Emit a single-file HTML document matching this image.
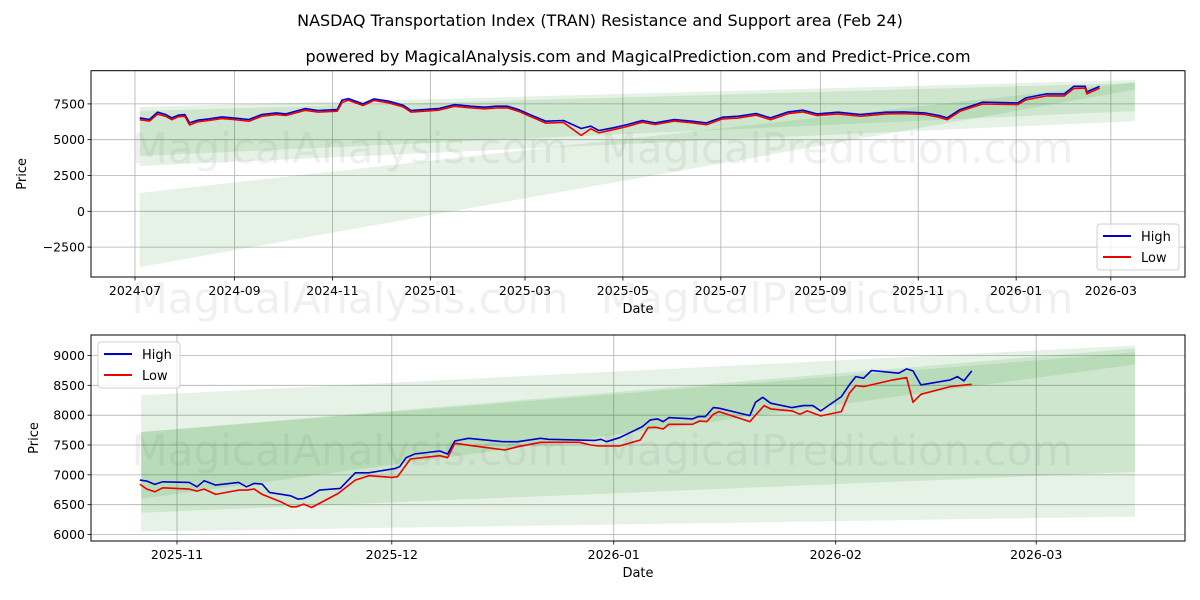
<!DOCTYPE html>
<html><head><meta charset="utf-8">
<style>
html,body{margin:0;padding:0;background:#fff;}
svg{display:block;font-family:"DejaVu Sans","Liberation Sans",sans-serif;}
</style></head>
<body>
<svg id="chart" width="1200" height="600" viewBox="0 0 1200 600" xmlns="http://www.w3.org/2000/svg">
<rect x="0" y="0" width="1200" height="600" fill="#fff"/>
<text x="600" y="26" text-anchor="middle" font-size="16" fill="#000">NASDAQ Transportation Index (TRAN) Resistance and Support area (Feb 24)</text>
<text x="638" y="62" text-anchor="middle" font-size="16" fill="#000">powered by MagicalAnalysis.com and MagicalPrediction.com and Predict-Price.com</text>
<g id="top"></g>
<g id="bot"></g>
</svg>
<script>
// ---- Top panel data (days since 2024-07-01) ----
const topHighDays = [3,9,14,19,23,27,31,34,39,46,54,61,71,79,88,94,106,114,126,129,133,142,149,158,167,172,180,189,199,209,218,225,232,239,247,256,267,278,284,289,298,307,316,324,336,347,356,366,376,387,396,407,416,425,438,452,468,479,492,501,506,514,528,550,555,568,579,585,592,593,601];
const topHigh = [6520,6410,6920,6760,6520,6710,6760,6170,6360,6450,6590,6520,6410,6760,6870,6800,7170,7040,7100,7760,7870,7500,7850,7690,7410,7040,7100,7170,7450,7340,7270,7340,7340,7100,6710,6290,6340,5780,5940,5640,5830,6060,6340,6170,6410,6290,6170,6570,6640,6830,6520,6940,7060,6800,6920,6760,6920,6940,6870,6690,6520,7100,7620,7570,7920,8200,8200,8730,8730,8340,8730];
const topLow = [6400,6300,6780,6640,6400,6600,6640,6030,6250,6340,6470,6410,6290,6640,6750,6690,7050,6930,6990,7600,7750,7390,7740,7580,7300,6930,6990,7060,7330,7230,7160,7220,7230,6980,6590,6160,6200,5300,5760,5480,5700,5930,6220,6060,6300,6180,6050,6450,6520,6710,6400,6820,6940,6680,6800,6640,6800,6820,6760,6570,6400,6980,7490,7450,7780,8060,8060,8580,8600,8200,8600];
const topTicksLabels = ["2024-07","2024-09","2024-11","2025-01","2025-03","2025-05","2025-07","2025-09","2025-11","2026-01","2026-03"];
const topTicksDays = [0,62,123,184,243,304,365,427,488,549,608];
const topYTicks = [-2500,0,2500,5000,7500];
const topBandDays = [3,623];
const topBand1Top = [7283,9169], topBand1Bot = [3163,6300];
const topBand2Top = [7004,8959], topBand2Bot = [3862,7004];
const topBand3Top = [1278,9000], topBand3Bot = [-3890,8500];

// ---- Bottom panel data (days since 2025-11-01) ----
const botHighDays = [-5.2,-4.2,-3.1,-2,1.7,2.8,3.8,5.4,8.6,9.7,10.8,11.9,12.9,15.9,16.9,17.7,18.8,19.9,22.8,24.9,26.8,30.5,31.1,32,33.2,36.7,37.8,38.8,40.7,45.5,47.6,50.8,51.9,58.4,59.2,60,61.8,65,66.1,67.1,67.9,68.7,72,72.8,73.8,74.9,75.7,80,80.8,81.8,82.9,85.9,87.5,88.8,89.9,92.8,93.9,94.8,95.9,97,100.8,101.9,102.8,103.9,108,109,109.9,111];
const botHigh = [6912,6895,6840,6884,6873,6800,6901,6828,6873,6800,6856,6845,6705,6649,6593,6604,6660,6744,6772,7035,7035,7108,7136,7287,7349,7399,7349,7567,7612,7556,7556,7612,7595,7578,7595,7556,7623,7808,7920,7937,7892,7959,7937,7976,7976,8127,8116,7992,8216,8300,8200,8127,8160,8160,8071,8311,8507,8647,8619,8748,8703,8776,8742,8507,8591,8647,8574,8742];
const botLowDays = [-5.2,-4.2,-3.1,-2,1.7,2.8,3.8,5.4,8.6,9.7,10.8,11.9,14.5,15.9,16.7,17.7,18.8,22.5,24.9,26.8,30,30.8,32.6,36.7,37.8,38.8,43.3,45.8,47.6,50.8,56.2,57.8,58.9,61.8,64.7,65.8,66.9,67.9,68.7,72,73,74,74.9,75.7,80,82,82.9,85.9,87,88,89.9,92.8,93.9,94.8,95.9,100,101.9,102.8,103.9,108,111];
const botLow = [6845,6761,6716,6783,6761,6727,6761,6672,6744,6744,6761,6672,6548,6465,6465,6509,6453,6688,6912,6985,6957,6968,7265,7321,7287,7528,7455,7416,7472,7545,7545,7500,7483,7483,7584,7791,7797,7769,7847,7847,7903,7892,8015,8060,7892,8160,8105,8071,8015,8071,7987,8060,8367,8496,8479,8591,8630,8216,8350,8479,8518];
const botTicksLabels = ["2025-11","2025-12","2026-01","2026-02","2026-03"];
const botTicksDays = [0,30,61,92,120];
const botYTicks = [6000,6500,7000,7500,8000,8500,9000];
const botBandDays = [-5,133.8];
const botBand1Top = [8333,9167], botBand1Bot = [6050,6300];
const botBand2Top = [7717,9050], botBand2Bot = [6367,7050];
const botBand3Top = [7717,9120], botBand3Bot = [6600,8850];

const NS = "http://www.w3.org/2000/svg";
function mk(tag, attrs, parent){const e=document.createElementNS(NS,tag);for(const k in attrs)e.setAttribute(k,attrs[k]);parent.appendChild(e);return e;}

function panel(g, cfg){
  const L=91,R=1185,T=cfg.T,B=cfg.B;
  const xs = d => cfg.x0 + d*cfg.xk;
  const ys = v => cfg.y0 - (v - cfg.v0)*cfg.yk;
  cfg.ticksDays.forEach((d,i)=>{
    const x=xs(d);
    const gl=mk('line',{x1:x,x2:x,y1:T,y2:B,stroke:'#b0b0b0','stroke-width':0.8},g);
    
    
    mk('line',{x1:x,x2:x,y1:B,y2:B+3.5,stroke:'#000','stroke-width':0.8},g);
    const t=mk('text',{x:x,y:B+18,'text-anchor':'middle','font-size':12.5,fill:'#000'},g);
    t.textContent=cfg.ticksLabels[i];
    
    
  });
  cfg.yTicks.forEach(v=>{
    const y=ys(v);
    const gl=mk('line',{x1:L,x2:R,y1:y,y2:y,stroke:'#b0b0b0','stroke-width':0.8},g);
    
    
    mk('line',{x1:L-3.5,x2:L,y1:y,y2:y,stroke:'#000','stroke-width':0.8},g);
    const t=mk('text',{x:L-6,y:y+4.5,'text-anchor':'end','font-size':12.5,fill:'#000'},g);
    t.textContent=(v<0?'\u2212'+Math.abs(v):String(v));
    
    
  });
  cfg.bands.forEach((b,i)=>{
    const d0=cfg.bandDays[0],d1=cfg.bandDays[1];
    const p=mk('polygon',{points:`${xs(d0)},${ys(b[0][0])} ${xs(d1)},${ys(b[0][1])} ${xs(d1)},${ys(b[1][1])} ${xs(d0)},${ys(b[1][0])}`,fill:'green','fill-opacity':0.1},g);
    
    
  });
  cfg.wm.forEach(w=>{
    const t=mk('text',{x:w[0],y:w[1],'text-anchor':'middle','font-size':42,fill:'#808080','fill-opacity':0.12},g);
    t.textContent=w[2];
    
    
  });
  const hp=cfg.highDays.map((d,i)=>`${xs(d).toFixed(1)},${ys(cfg.high[i]).toFixed(1)}`).join(' ');
  const lp=cfg.lowDays.map((d,i)=>`${xs(d).toFixed(1)},${ys(cfg.low[i]).toFixed(1)}`).join(' ');
  const hl=mk('polyline',{points:hp,fill:'none',stroke:'#0000cc','stroke-width':1.6,'stroke-linejoin':'round'},g);
  
  
  const ll=mk('polyline',{points:lp,fill:'none',stroke:'#ee0000','stroke-width':1.6,'stroke-linejoin':'round'},g);
  
  
  const fr=mk('rect',{x:L,y:T,width:R-L,height:B-T,fill:'none',stroke:'#000','stroke-width':1},g);
  
  
  const xt=mk('text',{x:(L+R)/2,y:B+36,'text-anchor':'middle','font-size':13,fill:'#000'},g);
  xt.textContent='Date';
  
  
  const yt=mk('text',{x:cfg.ylx,y:(T+B)/2,'text-anchor':'middle','font-size':13,fill:'#000',transform:`rotate(-90 ${cfg.ylx} ${(T+B)/2})`},g);
  yt.textContent='Price';
  
  
  const lx=cfg.leg[0],ly=cfg.leg[1];
  const lg=mk('g',{},g);
  
  
  mk('rect',{x:lx,y:ly,width:82,height:46,rx:3,fill:'#fff','fill-opacity':0.8,stroke:'#d0d0d0'},lg);
  [['High','#0000cc'],['Low','#ee0000']].forEach((e,i)=>{
    const eg=mk('g',{},lg);
    
    
    mk('line',{x1:lx+6,x2:lx+34,y1:ly+12+i*21,y2:ly+12+i*21,stroke:e[1],'stroke-width':2},eg);
    const t=mk('text',{x:lx+44,y:ly+17+i*21,'font-size':13,fill:'#000'},eg);
    t.textContent=e[0];
  });
}

panel(document.getElementById('top'),{
  T:70.7,B:277,x0:135,xk:1.605,y0:211.3,v0:0,yk:0.01432,ylx:26,
  ticksDays:topTicksDays,ticksLabels:topTicksLabels,yTicks:topYTicks,
  bandDays:topBandDays,
  bands:[[topBand1Top,topBand1Bot],[topBand2Top,topBand2Bot],[topBand3Top,topBand3Bot]],
  highDays:topHighDays,high:topHigh,lowDays:topHighDays,low:topLow,
  wm:[[350,163,'MagicalAnalysis.com'],[837,163,'MagicalPrediction.com'],[350,313,'MagicalAnalysis.com'],[837,313,'MagicalPrediction.com']],
  leg:[1097,224]
});
panel(document.getElementById('bot'),{
  T:335,B:541,x0:177,xk:7.16,y0:355.5,v0:9000,yk:0.05967,ylx:38,
  ticksDays:botTicksDays,ticksLabels:botTicksLabels,yTicks:botYTicks,
  bandDays:botBandDays,
  bands:[[botBand1Top,botBand1Bot],[botBand2Top,botBand2Bot],[botBand3Top,botBand3Bot]],
  highDays:botHighDays,high:botHigh,lowDays:botLowDays,low:botLow,
  wm:[[350,465,'MagicalAnalysis.com'],[837,465,'MagicalPrediction.com']],
  leg:[98,342]
});
</script>
</body></html>
